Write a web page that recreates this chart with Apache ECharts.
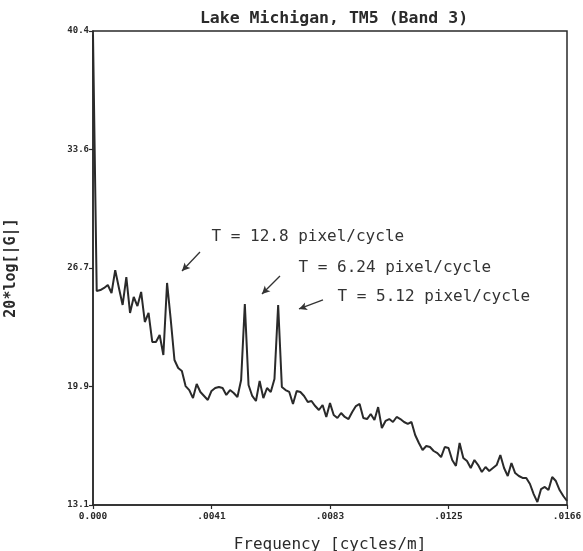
<!DOCTYPE html>
<html>
<head>
<meta charset="utf-8">
<title>Lake Michigan, TM5 (Band 3)</title>
<script src="https://cdn.jsdelivr.net/npm/echarts@6/dist/echarts.min.js"></script>
<style>
  html, body { margin: 0; padding: 0; background: #ffffff; }
  #chart { width: 583px; height: 551px; }
</style>
</head>
<body>
<div id="chart"></div>
<script>
// Amplitude spectrum of a TM5 band-3 scan line over Lake Michigan (dB, 20*log|G|),
// one value per FFT bin from 0 up to the Nyquist frequency.
const FFT_SIZE = 256;          // samples per transform
const PIXEL_SIZE_M = 30;       // ground sample distance

const spectrumDb = [
  40.20, 25.43, 25.48, 25.60, 25.77, 25.31, 26.63, 25.60, 24.62, 26.23,
  24.16, 25.08, 24.56, 25.37, 23.64, 24.16, 22.49, 22.49, 22.89, 21.74,
  25.89, 23.76, 21.45, 20.99, 20.82, 19.95, 19.72, 19.26, 20.07, 19.61,
  19.38, 19.15, 19.67, 19.84, 19.90, 19.84, 19.44, 19.72, 19.55, 19.32,
  20.30, 24.68, 20.01, 19.38, 19.09, 20.24, 19.26, 19.84, 19.61, 20.36,
  24.62, 19.90, 19.72, 19.61, 18.92, 19.67, 19.61, 19.38, 19.03, 19.09,
  18.80, 18.57, 18.86, 18.17, 18.97, 18.28, 18.11, 18.40, 18.17, 18.05,
  18.46, 18.80, 18.92, 18.11, 18.05, 18.34, 18.00, 18.74, 17.53, 17.94,
  18.05, 17.88, 18.17, 18.05, 17.88, 17.77, 17.88, 17.13, 16.67, 16.27,
  16.50, 16.44, 16.21, 16.09, 15.86, 16.44, 16.38, 15.69, 15.35, 16.67,
  15.81, 15.63, 15.23, 15.69, 15.40, 15.00, 15.29, 15.06, 15.23, 15.40,
  15.98, 15.23, 14.77, 15.52, 14.94, 14.77, 14.66, 14.66, 14.31, 13.73,
  13.27, 14.02, 14.14, 13.96, 14.71, 14.48, 13.96, 13.62, 13.33
];

// Frequency of each FFT bin in cycles per metre
const frequency = spectrumDb.map((_, k) => k / (FFT_SIZE * PIXEL_SIZE_M));

const xTickLabels = ['0.000', '.0041', '.0083', '.0125', '.0166'];
const yTickLabels = ['13.1', '19.9', '26.7', '33.6', '40.4'];

const X_MAX = 1 / (2 * PIXEL_SIZE_M);
const X_STEP = X_MAX / 4;
const Y_MIN = 13.1, Y_MAX = 40.4;
const Y_STEP = (Y_MAX - Y_MIN) / 4;

// Periodic striping peaks: label text and arrow (tail -> head) in data units
const peakNotes = [
  { text: 'T = 12.8 pixel/cycle', from: [0.003762, 27.67], to: [0.003129, 26.58] },
  { text: 'T = 6.24 pixel/cycle', from: [0.006575, 26.29], to: [0.005942, 25.25] },
  { text: 'T = 5.12 pixel/cycle', from: [0.008087, 24.91], to: [0.007243, 24.39] }
];
// Label placement relative to each arrow tail, in pixels
const noteOffsets = [[11, -15], [18, -8], [14, -3]];

const INK = '#2a2a2a';
const MONO = '"DejaVu Sans Mono", "Liberation Mono", monospace';

const chart = echarts.init(document.getElementById('chart'), null, { renderer: 'canvas' });

chart.setOption({
  animation: false,
  backgroundColor: '#ffffff',
  title: {
    text: 'Lake Michigan, TM5 (Band 3)',
    left: 329,
    top: 5,
    textAlign: 'center',
    textStyle: { fontFamily: MONO, fontSize: 16.5, fontWeight: 'bold', color: INK }
  },
  grid: {
    left: 93, right: 16, top: 31, bottom: 46,
    show: true, borderColor: INK, borderWidth: 1.5, backgroundColor: 'transparent',
    containLabel: false, outerBoundsMode: 'none'
  },
  xAxis: {
    type: 'value',
    min: 0, max: X_MAX, interval: X_STEP,
    name: 'Frequency [cycles/m]',
    nameLocation: 'middle',
    nameGap: 32,
    nameTextStyle: { fontFamily: MONO, fontSize: 16, color: INK },
    axisLine: { show: true, lineStyle: { color: INK, width: 1.5 } },
    axisTick: { show: true, length: 4, inside: false, lineStyle: { color: INK, width: 1.2 } },
    splitLine: { show: false },
    axisLabel: {
      showMinLabel: true, showMaxLabel: true,
      margin: 7,
      fontFamily: MONO, fontSize: 9.5, fontWeight: 'bold', color: INK,
      formatter: (v) => xTickLabels[Math.round(v / X_STEP)] ?? ''
    }
  },
  yAxis: {
    type: 'value',
    min: Y_MIN, max: Y_MAX, interval: Y_STEP,
    name: '20*log[|G|]',
    nameLocation: 'middle',
    nameGap: 74,
    nameRotate: 90,
    nameTextStyle: { fontFamily: MONO, fontSize: 15, fontWeight: 'bold', color: INK },
    axisLine: { show: true, lineStyle: { color: INK, width: 1.5 } },
    axisTick: { show: true, length: 4, inside: false, lineStyle: { color: INK, width: 1.2 } },
    splitLine: { show: false },
    axisLabel: {
      showMinLabel: true, showMaxLabel: true,
      margin: 4,
      fontFamily: MONO, fontSize: 9, fontWeight: 'bold', color: INK,
      formatter: (v) => yTickLabels[Math.round((v - Y_MIN) / Y_STEP)] ?? ''
    }
  },
  series: [{
    type: 'line',
    data: spectrumDb.map((db, k) => [frequency[k], db]),
    showSymbol: false,
    symbol: 'none',
    clip: true,
    lineStyle: { color: INK, width: 2 },
    markLine: {
      silent: true,
      symbol: ['none', 'arrow'],
      symbolSize: [6, 8],
      label: { show: false },
      lineStyle: { color: '#333', width: 1.3, type: 'solid' },
      data: peakNotes.map(n => [{ coord: n.from }, { coord: n.to }])
    },
    markPoint: {
      silent: true,
      symbol: 'circle',
      symbolSize: 1,
      itemStyle: { color: 'rgba(0,0,0,0)' },
      data: peakNotes.map((n, i) => ({
        coord: n.from,
        value: n.text,
        label: {
          show: true,
          formatter: n.text,
          position: 'right',
          distance: 0,
          offset: noteOffsets[i],
          fontFamily: MONO, fontSize: 16, color: '#333'
        }
      }))
    }
  }]
});
</script>
</body>
</html>
